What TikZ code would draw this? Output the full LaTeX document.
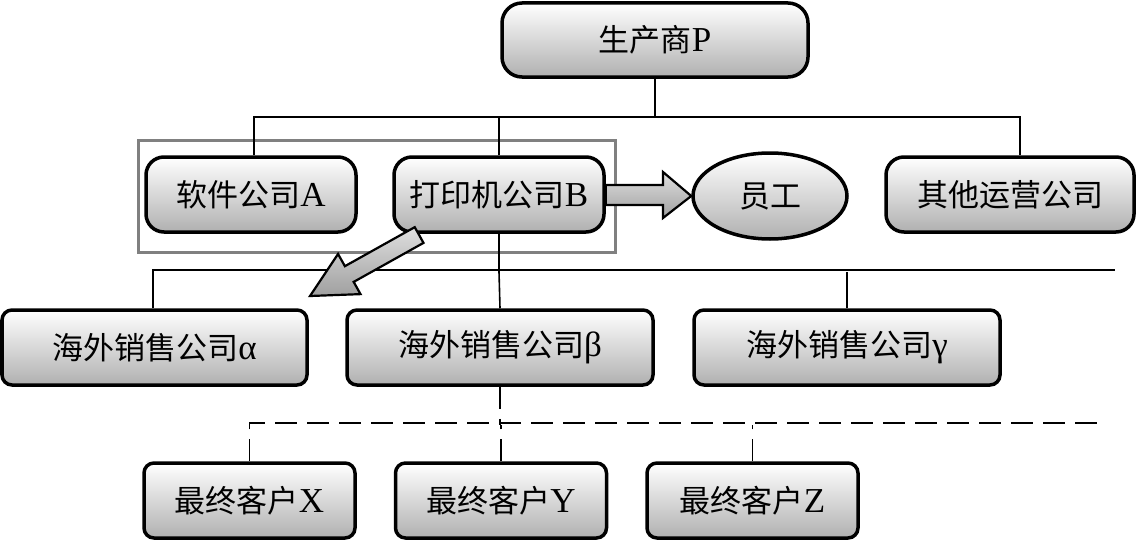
\documentclass[tikz,border=0pt]{standalone}
\usepackage{fontspec}
\setmainfont{Liberation Serif}
\newfontfamily\cjk{Noto Sans CJK SC}
\newcommand\latbig[1]{{\fontsize{35}{38}\selectfont #1}}
\usetikzlibrary{shapes.geometric}
\begin{document}
\begin{tikzpicture}[x=1pt,y=1pt,
  box/.style={draw, line width=3.5pt, rounded corners=18pt, top color=white, bottom color=gray!62,
    minimum height=75pt, inner sep=0pt, font=\fontsize{31}{34}\selectfont},
  sbox/.style={box, rounded corners=10pt},
  conn/.style={line width=1.6pt},
  dconn/.style={line width=1.6pt, dash pattern=on 22pt off 10pt},
  fat/.style={draw, line width=2.2pt, line join=miter, top color=gray!25, bottom color=gray!75},
  frame/.style={draw=gray, line width=3pt, minimum width=477pt, minimum height=112pt}]
\useasboundingbox (0,0) rectangle (1137,-543);
\node[frame] (F) at (376.5,-196) {};
\node[box, minimum width=306pt, minimum height=74pt, rounded corners=20pt] (P) at (655,-40) {{\cjk 生产商}\latbig{P}};
\node[box, minimum width=210pt] (A) at (251,-194.5) {{\cjk 软件公司}\latbig{A}};
\node[box, minimum width=210pt] (B) at (499,-194.5) {{\cjk 打印机公司}\latbig{B}};
\node[box, minimum width=248pt] (O) at (1010,-194.5) {\cjk 其他运营公司};
\node[box, ellipse, minimum width=154pt, minimum height=86pt] (E) at (770,-196) {\cjk 员工};
\node[sbox, minimum width=305pt] (al) at (154.5,-347.5) {{\cjk 海外销售公司}\latbig{α}};
\node[sbox, minimum width=306pt] (be) at (500,-347.5) {{\cjk 海外销售公司}\latbig{β}};
\node[sbox, minimum width=306pt] (ga) at (847,-347.5) {{\cjk 海外销售公司}\latbig{γ}};
\node[sbox, minimum width=211pt] (X) at (249.5,-500.5) {{\cjk 最终客户}\latbig{X}};
\node[sbox, minimum width=211pt] (Y) at (501,-500.5) {{\cjk 最终客户}\latbig{Y}};
\node[sbox, minimum width=211pt] (Z) at (752.5,-500.5) {{\cjk 最终客户}\latbig{Z}};
% tree level 1
\draw[conn] (P.south) -- ++(0,-38) coordinate (j1);
\draw[conn] ([xshift=3pt]A.north) |- ([xshift=10pt]O.north |- j1) -- ([xshift=10pt]O.north);
\draw[conn] (B.north) -- (B.north |- j1);
% tree level 2
\draw[conn] (B.south) -- ++(0,-38) coordinate (j2);
\coordinate (rend) at (1115,-270);
\draw[conn] ([xshift=-1.5pt]al.north) |- (rend);
\draw[conn] (ga.north) -- (ga.north |- j2);
\draw[conn] (j2) -- (be.north);
% tree level 3 dashed
\draw[dconn] (be.south) -- ++(0,-38) coordinate (j3);
\coordinate (dend) at (1100,-423);
\draw[dconn] (X.north) |- (dend);
\draw[dconn] (Y.north) -- (Y.north |- j3);
\draw[dconn] (Z.north) -- (Z.north |- j3);
% fat arrows
\draw[fat] (B.east |- 0,-185) -- (663,-185) -- (663,-172) -- (E.west) -- (663,-218) -- (663,-205) -- (B.east |- 0,-205) -- cycle;
\begin{scope}[shift={(310,-296)}, rotate=209.2]
\draw[fat] (0,0) -- (-45,23) -- (-45,9) -- (-125,9) -- (-125,-9) -- (-45,-9) -- (-45,-23) -- cycle;
\end{scope}
\end{tikzpicture}
\end{document}
